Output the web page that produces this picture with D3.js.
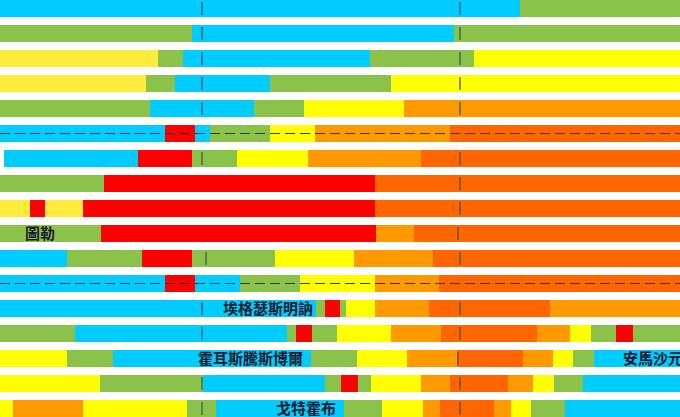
<!DOCTYPE html>
<html><head><meta charset="utf-8">
<script src="https://cdn.jsdelivr.net/npm/d3@7"></script>
<style>body{margin:0;background:#fff}</style>
</head><body>
<div class="chart"></div>
<script>
// colour keys
var colors = {B:"#00ccff", G:"#8bc34a", L:"#ffeb3b", Y:"#ffff00", O:"#ff9900", D:"#ff6600", R:"#ff0000", W:"#ffffff"};

// each row: list of [start, end, colourKey]
var rows = [
  [[0,520,"B"],[520,680,"G"]],
  [[0,192,"G"],[192,454,"B"],[454,680,"G"]],
  [[0,158,"L"],[158,183,"G"],[183,370,"B"],[370,474,"G"],[474,680,"Y"]],
  [[0,146,"L"],[146,175,"G"],[175,270,"B"],[270,391,"G"],[391,680,"Y"]],
  [[0,150,"G"],[150,254,"B"],[254,304,"G"],[304,404,"Y"],[404,680,"O"]],
  [[0,165,"B"],[165,195,"R"],[195,210,"B"],[210,270,"G"],[270,315,"Y"],[315,450,"O"],[450,680,"D"]],
  [[4,138,"B"],[138,192,"R"],[192,237,"G"],[237,308,"Y"],[308,421,"O"],[421,680,"D"]],
  [[0,104,"G"],[104,375,"R"],[375,680,"D"]],
  [[0,30,"L"],[30,45,"R"],[45,83,"L"],[83,375,"R"],[375,680,"D"]],
  [[0,101,"G"],[101,376,"R"],[376,414,"O"],[414,680,"D"]],
  [[0,67,"B"],[67,142,"G"],[142,192,"R"],[192,275,"G"],[275,354,"Y"],[354,433,"O"],[433,680,"D"]],
  [[0,165,"B"],[165,195,"R"],[195,240,"B"],[240,300,"G"],[300,375,"Y"],[375,439,"O"],[439,680,"D"]],
  [[0,316,"B"],[316,325,"G"],[325,340,"R"],[340,346,"G"],[346,375,"Y"],[375,429,"O"],[429,550,"D"],[550,680,"O"]],
  [[0,75,"G"],[75,287,"B"],[287,296,"G"],[296,312,"R"],[312,337,"G"],[337,391,"Y"],[391,441,"O"],[441,537,"D"],[537,570,"O"],[570,591,"Y"],[591,616,"G"],[616,633,"R"],[633,680,"G"]],
  [[0,67,"Y"],[67,113,"G"],[113,311,"B"],[311,357,"G"],[357,407,"Y"],[407,457,"O"],[457,523,"D"],[523,553,"O"],[553,573,"Y"],[573,594,"G"],[594,680,"B"]],
  [[0,100,"Y"],[100,203,"G"],[203,325,"B"],[325,341,"G"],[341,358,"R"],[358,371,"G"],[371,421,"Y"],[421,450,"O"],[450,508,"D"],[508,533,"O"],[533,554,"Y"],[554,583,"G"],[583,680,"B"]],
  [[0,13,"Y"],[13,83,"O"],[83,187,"Y"],[187,216,"G"],[216,344,"B"],[344,382,"G"],[382,423,"Y"],[423,440,"O"],[440,494,"D"],[494,511,"O"],[511,531,"Y"],[531,565,"G"],[565,680,"B"]]
];
var dashedRows = [5, 11];
// tick marks: [row, x]
var marks = [[0,202],[1,202],[2,202],[3,202],[4,202],[6,202],[10,206],[12,202],[13,202],[15,202],[16,202],
  [0,460],[1,460],[2,460],[3,460],[4,460],[6,460],[7,460],[8,460],[9,458],[10,460],[12,460],[13,460],[14,458],[15,460],[16,460]];
// labels: [row, x, text, anchor]
var labels = [[9,40,"圖勒","middle"],[12,313,"埃格瑟斯明訥","end"],[14,303,"霍耳斯騰斯博爾","end"],[14,623,"安馬沙元","start"],[16,336,"戈特霍布","end"]];

var width = 680, height = 417, pitch = 25, barH = 17;
var x = d3.scaleLinear().domain([0, 680]).range([0, width]);
var y = d3.scaleLinear().domain([0, 1]).range([0, pitch]);

var svg = d3.select(".chart").append("svg").attr("width", width).attr("height", height);

var g = svg.selectAll("g.row").data(rows).enter().append("g").attr("class", "row")
  .attr("transform", function(d, i) { return "translate(0," + y(i) + ")"; });

g.selectAll("rect").data(function(d) { return d; }).enter().append("rect")
  .attr("x", function(d) { return x(d[0]); })
  .attr("width", function(d) { return x(d[1]) - x(d[0]); })
  .attr("height", barH)
  .attr("fill", function(d) { return colors[d[2]]; });

svg.selectAll("line.dash").data(dashedRows).enter().append("line")
  .attr("x1", 0).attr("x2", width)
  .attr("y1", function(d) { return y(d) + barH / 2; })
  .attr("y2", function(d) { return y(d) + barH / 2; })
  .attr("stroke", "#333").attr("stroke-width", 1.2).attr("stroke-dasharray", "10,5");

svg.selectAll("line.mark").data(marks).enter().append("line")
  .attr("x1", function(d) { return x(d[1]); }).attr("x2", function(d) { return x(d[1]); })
  .attr("y1", function(d) { return y(d[0]) + 2; })
  .attr("y2", function(d) { return y(d[0]) + barH - 2; })
  .attr("stroke", "#3c5a5a").attr("stroke-width", 1.3);

svg.selectAll("text").data(labels).enter().append("text")
  .attr("x", function(d) { return x(d[1]); })
  .attr("y", function(d) { return y(d[0]) + barH / 2 + 5; })
  .attr("text-anchor", function(d) { return d[3]; })
  .attr("font-family", "Noto Sans CJK TC").attr("font-weight", "bold").attr("font-size", 15)
  .attr("fill", "#1a1a2e")
  .text(function(d) { return d[2]; });
</script>
</body></html>
